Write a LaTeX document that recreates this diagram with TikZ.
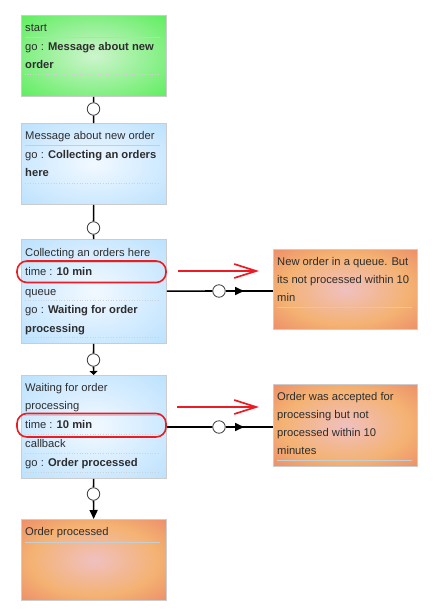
\documentclass[tikz,border=0pt]{standalone}
\usepackage{fontspec}
\setmainfont{Liberation Sans}
\usetikzlibrary{arrows.meta}

\definecolor{txtgray}{RGB}{45,45,45}
\definecolor{seprule}{RGB}{200,205,210}
\definecolor{marker}{RGB}{237,28,36}
\definecolor{greenin}{RGB}{206,244,206}
\definecolor{greenout}{RGB}{62,236,62}
\definecolor{bluein}{RGB}{242,249,255}
\definecolor{blueout}{RGB}{166,216,254}
\definecolor{pinkin}{RGB}{240,192,192}
\definecolor{orangemid}{RGB}{244,178,114}
\definecolor{redout}{RGB}{229,106,96}

\pgfdeclareradialshading{greenfill}{\pgfpoint{0bp}{0bp}}{color(0bp)=(greenin); color(46bp)=(greenout); color(75bp)=(greenout)}
\pgfdeclareradialshading{bluefill}{\pgfpoint{0bp}{0bp}}{color(0bp)=(bluein); color(50bp)=(blueout); color(75bp)=(blueout)}
\pgfdeclareradialshading{orangefill}{\pgfpoint{0bp}{0bp}}{color(0bp)=(pinkin); color(22bp)=(orangemid); color(50bp)=(redout); color(75bp)=(redout)}

\begin{document}
\begin{tikzpicture}
  [x=1pt,y=-1pt,
   box/.style={draw=black!20,line width=.8pt,inner sep=0pt,anchor=north west,
     minimum width=145pt},
   txt/.style={anchor=west,inner sep=0pt,text=txtgray,font=\fontsize{11.2}{13}\selectfont,
     text height=8pt,text depth=2.5pt,yshift=-1pt},
   sep/.style={draw=seprule,line width=.8pt},
   dots/.style={draw=black!18,line width=.6pt,dotted},
   hub/.style={circle,draw=black!75,fill=white,line width=.8pt,minimum size=12.5pt,inner sep=0pt},
   link/.style={draw=black,line width=1.6pt},
   tip/.style={-{Triangle[length=9pt,width=8pt]}},
   stubtip/.style={-{Triangle[length=4pt,width=8pt]}},
   hilite/.style={draw=marker,line width=1.6pt,rounded corners=10pt},
   pointer/.style={draw=marker,line width=1.7pt,-{Straight Barb[length=22pt,width=14pt,line width=1.7pt]}}]

  \useasboundingbox[fill=white] (0,0) rectangle (435,614);

  % states
  \node[box,shading=greenfill,minimum height=81pt] (start) at (21,15) {};
  \node[box,shading=bluefill,minimum height=81pt] (msg) at (21,123) {};
  \node[box,shading=bluefill,minimum height=104pt] (coll) at (21,239) {};
  \node[box,shading=bluefill,minimum height=103pt] (wait) at (21,375) {};
  \node[box,shading=orangefill,minimum height=81pt] (done) at (21,519) {};
  \node[box,shading=orangefill,minimum width=144pt,minimum height=80pt] (late1) at (273,249) {};
  \node[box,shading=orangefill,minimum width=144pt,minimum height=82pt] (late2) at (273,384) {};

  % start
  \node[txt] (start-t1) at (25,28) {start};
  \draw[sep] (25,37.5) -- (160,37.5);
  \node[txt] (start-t2) at (25,47) {go : \textbf{Message about new}};
  \node[txt] (start-t3) at (25,65) {\textbf{order}};
  \draw[dots] (25,74) -- (160,74);

  % message
  \node[txt] (msg-t1) at (25,136) {Message about new order};
  \draw[sep] (25,145) -- (160,145);
  \node[txt] (msg-t2) at (25,155) {go : \textbf{Collecting an orders}};
  \node[txt] (msg-t3) at (25,173) {\textbf{here}};
  \draw[dots] (25,183) -- (160,183);

  % collecting
  \node[txt] (coll-t1) at (25,253) {Collecting an orders here};
  \draw[sep] (25,262) -- (160,262);
  \node[txt] (coll-t2) at (25,272) {time : \textbf{10 min}};
  \draw[dots] (25,282) -- (160,282);
  \node[txt] (coll-t3) at (25,292) {queue};
  \draw[dots] (25,300.5) -- (160,300.5);
  \node[txt] (coll-t4) at (25,310) {go : \textbf{Waiting for order}};
  \node[txt] (coll-t5) at (25,329) {\textbf{processing}};
  \draw[dots] (25,337.5) -- (160,337.5);

  % waiting
  \node[txt] (wait-t1) at (25,388) {Waiting for order};
  \node[txt] (wait-t2) at (25,406) {processing};
  \draw[sep] (25,415) -- (160,415);
  \node[txt] (wait-t3) at (25,425) {time : \textbf{10 min}};
  \draw[dots] (25,434) -- (160,434);
  \node[txt] (wait-t4) at (25,444) {callback};
  \draw[dots] (25,453) -- (160,453);
  \node[txt] (wait-t5) at (25,463) {go : \textbf{Order processed}};
  \draw[dots] (25,472) -- (160,472);

  % finals
  \node[txt] (done-t1) at (25,532) {Order processed};
  \draw[sep] (25,542) -- (160,542);
  \node[txt] (late1-t1) at (277,262) {New order in a queue. But};
  \node[txt] (late1-t2) at (277,280) {its not processed within 10};
  \node[txt] (late1-t3) at (277,298) {min};
  \draw[sep] (277,307) -- (412,307);
  \node[txt] (late2-t1) at (277,397) {Order was accepted for};
  \node[txt] (late2-t2) at (277,415) {processing but not};
  \node[txt] (late2-t3) at (277,433) {processed within 10};
  \node[txt] (late2-t4) at (277,451) {minutes};
  \draw[sep] (277,460) -- (412,460);

  % transitions
  \node[hub] (h1) at (93.5,109) {};
  \node[hub] (h2) at (93.5,228) {};
  \node[hub] (h3) at (93.5,360) {};
  \node[hub] (h4) at (93.5,494) {};
  \node[hub] (h5) at (219,291) {};
  \node[hub] (h6) at (219,427) {};
  \coordinate (a5) at (244,291);
  \coordinate (a6) at (244,427);

  \path[link]
    (start) edge (h1)
    (h1) edge (msg)
    (msg) edge (h2)
    (h2) edge (coll)
    (coll) edge (h3)
    (h3) edge[stubtip] (wait)
    (wait) edge (h4)
    (h4) edge[tip] (done)
    (coll) edge (h5)
    (h5) edge (h5 -| late1.west)
    (h5) edge[tip] (a5)
    (wait) edge (h6)
    (h6) edge (h6 -| late2.west)
    (h6) edge[tip] (a6);

  % marks
  \draw[hilite] (17,261) rectangle (166,282.5);
  \draw[hilite] (17,413.5) rectangle (166,437);
  \coordinate (m1) at (178,271);
  \coordinate (m1e) at (259,271);
  \coordinate (m2) at (177,407);
  \coordinate (m2e) at (259,407);
  \draw[pointer] (m1) -- (m1e);
  \draw[pointer] (m2) -- (m2e);
\end{tikzpicture}
\end{document}
